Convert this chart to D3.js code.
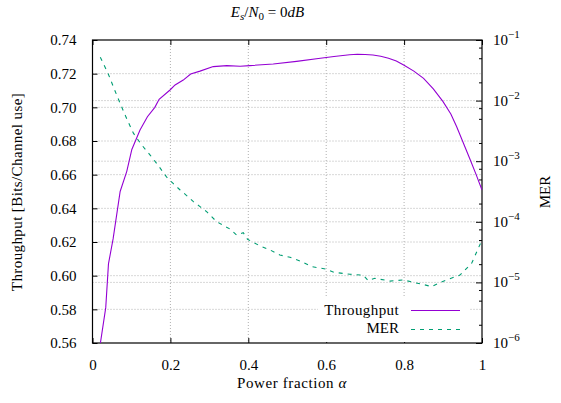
<!DOCTYPE html>
<html>
<head>
<meta charset="utf-8">
<script src="https://cdn.jsdelivr.net/npm/d3@7"></script>
<style>
  body { margin: 0; background: #fff; }
  svg { font-family: "Liberation Serif", "Times New Roman", serif; }
  text { font-family: "Liberation Serif", "Times New Roman", serif; font-size: 15px; fill: #000; }
</style>
</head>
<body>
<div id="wrapper"></div>
<script>
// throughput vs power fraction (left axis)
const alphaT = [0.02, 0.034, 0.041, 0.053, 0.071, 0.088, 0.101, 0.122, 0.141, 0.160, 0.171, 0.199, 0.212, 0.233,
  0.252, 0.276, 0.31, 0.345, 0.379, 0.404, 0.464, 0.524, 0.58, 0.62, 0.66, 0.68, 0.70, 0.72, 0.74, 0.76, 0.78,
  0.80, 0.825, 0.85, 0.875, 0.90, 0.92, 0.935, 0.95, 0.97, 0.985, 1.0];
const throughput = [0.5595, 0.581, 0.607, 0.622, 0.650, 0.662, 0.675, 0.6865, 0.6944, 0.700, 0.7048, 0.7103, 0.7133,
  0.7162, 0.7198, 0.7215, 0.7242, 0.7248, 0.7244, 0.7248, 0.7257, 0.7273, 0.7290, 0.7302, 0.7312, 0.7315, 0.7314,
  0.7311, 0.7303, 0.7292, 0.7275, 0.7250, 0.7215, 0.7172, 0.7110, 0.7034, 0.6960, 0.6885, 0.6800, 0.6687,
  0.6600, 0.6509];

// MER vs power fraction (right log axis)
const alphaM = [0.02, 0.04, 0.055, 0.071, 0.088, 0.105, 0.125, 0.148, 0.17, 0.19, 0.207, 0.225, 0.245, 0.259, 0.276,
  0.293, 0.319, 0.353, 0.370, 0.387, 0.398, 0.43, 0.456, 0.481, 0.507, 0.533, 0.563, 0.60, 0.62, 0.661, 0.695,
  0.708, 0.725, 0.764, 0.798, 0.824, 0.845, 0.871, 0.892, 0.909, 0.9435, 0.9735, 0.9905, 1.0];
const mer = [5.2e-2, 2.8e-2, 1.6e-2, 9.0e-3, 5.0e-3, 2.9e-3, 1.9e-3, 1.26e-3, 8.3e-4, 5.5e-4, 4.3e-4, 3.35e-4,
  2.6e-4, 2.15e-4, 1.78e-4, 1.47e-4, 1.0e-4, 7.6e-5, 6.05e-5, 6.6e-5, 5.15e-5, 4.0e-5, 3.43e-5, 2.83e-5, 2.6e-5,
  2.25e-5, 1.82e-5, 1.66e-5, 1.47e-5, 1.36e-5, 1.32e-5, 1.07e-5, 1.17e-5, 1.05e-5, 1.10e-5, 1.0e-5, 9.4e-6,
  8.5e-6, 9.9e-6, 1.1e-5, 1.32e-5, 2.07e-5, 3.66e-5, 5.0e-5];

const xTicks = [0, 0.2, 0.4, 0.6, 0.8, 1];
const yTicks = [0.56, 0.58, 0.60, 0.62, 0.64, 0.66, 0.68, 0.70, 0.72, 0.74];
const y2Exps = [-1, -2, -3, -4, -5, -6];
const y2Minor = [2, 5, 7.5];

const dimension = {
  width: 561,
  height: 403,
  margin: { top: 40, left: 92.5, bottom: 60, right: 79 }
};
dimension.boundedWidth = dimension.width - dimension.margin.left - dimension.margin.right;
dimension.boundedHeight = dimension.height - dimension.margin.top - dimension.margin.bottom;

const svg = d3.select("#wrapper").append("svg")
  .attr("width", dimension.width)
  .attr("height", dimension.height);

const bounded = svg.append("g")
  .attr("transform", `translate(${dimension.margin.left},${dimension.margin.top})`);

const W = dimension.boundedWidth, H = dimension.boundedHeight;

const scaleX = d3.scaleLinear().domain([0, 1]).range([0, W]);
const scaleY = d3.scaleLinear().domain([0.56, 0.74]).range([H, 0]);
const scaleY2 = d3.scaleLog().domain([1e-6, 1e-1]).range([H, 0]);

const y2Majors = y2Exps.map(e => Math.pow(10, e));
const y2Minors = [];
y2Exps.slice(1).forEach(e => y2Minor.forEach(m => y2Minors.push(m * Math.pow(10, e))));

// grid
const grid = bounded.append("g")
  .attr("stroke", "#b0b0b0")
  .attr("stroke-width", 1)
  .attr("stroke-dasharray", "1,2");
grid.selectAll(".gx").data(xTicks.slice(1, -1)).join("line")
  .attr("x1", d => scaleX(d)).attr("x2", d => scaleX(d))
  .attr("y1", 0).attr("y2", H);
grid.selectAll(".gy").data(yTicks.slice(1, -1)).join("line")
  .attr("class", "gy")
  .attr("x1", 0).attr("x2", W)
  .attr("y1", d => scaleY(d)).attr("y2", d => scaleY(d));
grid.selectAll(".gy2").data(y2Majors.slice(1, -1)).join("line")
  .attr("class", "gy2")
  .attr("x1", 0).attr("x2", W)
  .attr("y1", d => scaleY2(d)).attr("y2", d => scaleY2(d));

// axes (ticks inward)
bounded.append("g")
  .attr("transform", `translate(0,${H})`)
  .call(d3.axisBottom(scaleX).tickValues(xTicks).tickSizeInner(-5).tickSizeOuter(0).tickPadding(16)
    .tickFormat(d => d === 0 ? "0" : d === 1 ? "1" : d3.format(".1f")(d)));
bounded.append("g")
  .call(d3.axisTop(scaleX).tickValues(xTicks).tickSizeInner(-5).tickSizeOuter(0).tickFormat(""));
bounded.append("g")
  .call(d3.axisLeft(scaleY).tickValues(yTicks).tickSizeInner(-5).tickSizeOuter(0).tickPadding(16)
    .tickFormat(d3.format(".2f")));
bounded.append("g")
  .attr("transform", `translate(${W},0)`)
  .call(d3.axisRight(scaleY2).tickValues(y2Majors).tickSizeInner(-6).tickSizeOuter(0).tickFormat(""));
bounded.append("g")
  .attr("transform", `translate(${W},0)`)
  .call(d3.axisRight(scaleY2).tickValues(y2Minors).tickSizeInner(-3).tickSizeOuter(0).tickFormat(""));

bounded.selectAll(".domain").remove();
bounded.selectAll("g").attr("font-family", null).attr("font-size", null);
bounded.selectAll(".tick line").attr("stroke", "#000");

// right log labels
const y2Labels = bounded.append("g");
y2Exps.forEach(e => {
  const t = y2Labels.append("text")
    .attr("x", W + 11)
    .attr("y", scaleY2(Math.pow(10, e)) + 5);
  t.append("tspan").text("10");
  t.append("tspan").attr("dy", -7).style("font-size", "11px").text("\u2212" + Math.abs(e));
});

// frame
bounded.append("rect")
  .attr("width", W).attr("height", H)
  .attr("fill", "none").attr("stroke", "#000").attr("stroke-width", 1.2);

// curves
bounded.append("clipPath").attr("id", "clip")
  .append("rect").attr("width", W).attr("height", H);

const lineT = d3.line()
  .x((d, i) => scaleX(alphaT[i]))
  .y(d => scaleY(d));
const lineM = d3.line()
  .x((d, i) => scaleX(alphaM[i]))
  .y(d => scaleY2(d));

bounded.append("path")
  .datum(throughput)
  .attr("clip-path", "url(#clip)")
  .attr("d", lineT)
  .attr("fill", "none")
  .attr("stroke", "#9400d3")
  .attr("stroke-width", 1.1);

bounded.append("path")
  .datum(mer)
  .attr("clip-path", "url(#clip)")
  .attr("d", lineM)
  .attr("fill", "none")
  .attr("stroke", "#009e73")
  .attr("stroke-width", 1.1)
  .attr("stroke-dasharray", "4,5");

// legend
const legend = svg.append("g");
legend.append("rect")
  .attr("x", 318).attr("y", 298).attr("width", 152).attr("height", 44)
  .attr("fill", "#fff");
legend.append("text").attr("x", 399).attr("y", 315).attr("text-anchor", "end")
  .style("letter-spacing", "0.4px").text("Throughput");
legend.append("line").attr("x1", 411).attr("x2", 460).attr("y1", 310.5).attr("y2", 310.5)
  .attr("stroke", "#9400d3").attr("stroke-width", 1.1);
legend.append("text").attr("x", 399).attr("y", 333).attr("text-anchor", "end").text("MER");
legend.append("line").attr("x1", 411).attr("x2", 460).attr("y1", 329.5).attr("y2", 329.5)
  .attr("stroke", "#009e73").attr("stroke-width", 1.1).attr("stroke-dasharray", "4,5");

// title
const title = svg.append("text")
  .attr("x", 267.5).attr("y", 17).attr("text-anchor", "middle");
title.append("tspan").style("font-style", "italic").text("E");
title.append("tspan").attr("dy", 3).style("font-size", "11px").style("font-style", "italic").text("s");
title.append("tspan").attr("dy", -3).text("/");
title.append("tspan").style("font-style", "italic").text("N");
title.append("tspan").attr("dy", 3).style("font-size", "11px").text("0");
title.append("tspan").attr("dy", -3).text(" = 0");
title.append("tspan").style("font-style", "italic").text("dB");

// axis labels
svg.append("text")
  .attr("x", 292).attr("y", 388).attr("text-anchor", "middle")
  .style("letter-spacing", "0.6px")
  .text("Power fraction ")
  .append("tspan").style("font-style", "italic").text("\u03b1");

svg.append("text")
  .attr("transform", "translate(22,192) rotate(-90)")
  .attr("text-anchor", "middle")
  .style("letter-spacing", "0.4px")
  .text("Throughput [Bits/Channel use]");

svg.append("text")
  .attr("transform", "translate(550,192) rotate(-90)")
  .attr("text-anchor", "middle")
  .text("MER");
</script>
</body>
</html>
